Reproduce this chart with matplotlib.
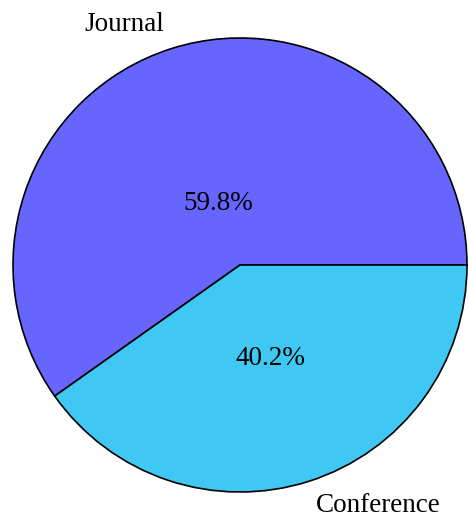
import matplotlib
matplotlib.use("Agg")
from matplotlib import pyplot as plt

labels = ["Journal", "Conference"]
shares = [59.8, 40.2]
colors = ["#6666FF", "#40C8F4"]

plt.rcParams["font.family"] = ["Liberation Serif", "DejaVu Serif"]

fig = plt.figure(figsize=(4.68, 5.18), dpi=100)
ax = fig.add_axes([13 / 468, 26 / 518, 454 / 468, 454 / 518])

wedges, texts, autotexts = ax.pie(
    shares, labels=labels, colors=colors, startangle=0, counterclock=True,
    autopct="%1.1f%%", labeldistance=1.11,
    wedgeprops={"edgecolor": "black", "linewidth": 1.2},
    textprops={"fontsize": 19.5},
)
# percentage label placement as in the reference
autotexts[0].set_position((-0.097, 0.272))
autotexts[1].set_position((0.132, -0.41))

ax.set_xlim(-1, 1)
ax.set_ylim(-1, 1)
ax.set_aspect("equal")

plt.savefig("out.png", dpi=100)
